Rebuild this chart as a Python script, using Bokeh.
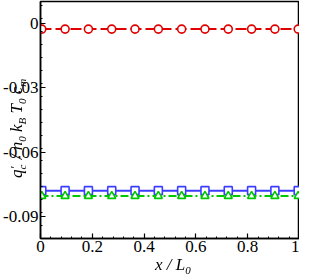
from bokeh.plotting import figure
from bokeh.models import FixedTicker, Range1d, Div
from bokeh.layouts import column
from bokeh.embed import file_html
from bokeh.resources import INLINE

# data
x_line = [0.0, 1.0]
x_mark = [0.005, 0.095, 0.185, 0.275, 0.365, 0.455, 0.545, 0.635, 0.725, 0.815, 0.905, 0.995]
red_val = -0.0028
blue_val = -0.0778
green_val = -0.0803
x_ticks = [0, 0.2, 0.4, 0.6, 0.8, 1.0]
x_tick_labels = {0: "0", 0.2: "0.2", 0.4: "0.4", 0.6: "0.6", 0.8: "0.8", 1.0: "1"}
y_ticks = [0, -0.03, -0.06, -0.09]
y_tick_labels = {0: "0", -0.03: "-0.03", -0.06: "-0.06", -0.09: "-0.09"}

RED = "#e00000"
BLUE = "#3c3cff"
GREEN = "#00c800"
FONT = "Liberation Serif"

p = figure(width=299, height=263, output_backend="svg", toolbar_location=None,
           x_range=Range1d(0, 1), y_range=Range1d(-0.1, 0.01),
           min_border_left=33, min_border_right=0, min_border_top=1, min_border_bottom=25)
p.grid.visible = False
p.outline_line_color = "black"
p.outline_line_width = 1.5
p.background_fill_color = "white"
p.border_fill_color = "white"

# red
p.line(x_line, [red_val] * 2, color=RED, line_width=2, line_dash="11 4")
p.scatter(x_mark, [red_val] * len(x_mark), marker="circle", size=8, line_color=RED,
          fill_color="white", line_width=1.6)
# blue
p.line(x_line, [blue_val] * 2, color=BLUE, line_width=2)
p.scatter(x_mark, [blue_val] * len(x_mark), marker="square", size=8, line_color=BLUE,
          fill_color="white", line_width=1.6)
# green
p.line(x_line, [green_val] * 2, color=GREEN, line_width=2, line_dash="8 3 2 3")
p.scatter(x_mark, [green_val] * len(x_mark), marker="triangle", size=8, line_color=GREEN,
          fill_color="white", line_width=1.6)

xminor = [round(i * 0.04, 2) for i in range(26)]
yminor = [round(-0.1 + i * 0.006, 3) for i in range(19)]
p.xaxis.ticker = FixedTicker(ticks=x_ticks, minor_ticks=xminor)
p.yaxis.ticker = FixedTicker(ticks=y_ticks, minor_ticks=yminor)
p.xaxis.major_label_overrides = x_tick_labels
p.yaxis.major_label_overrides = y_tick_labels

for ax in (p.xaxis, p.yaxis):
    ax.axis_line_color = "black"
    ax.axis_line_width = 1.5
    ax.major_tick_in = 5
    ax.major_tick_out = 0
    ax.minor_tick_in = 2
    ax.minor_tick_out = 0
    ax.major_tick_line_width = 1.2
    ax.major_label_text_font = FONT
    ax.major_label_text_font_size = "17px"
    ax.major_label_text_color = "black"
    ax.major_label_standoff = 2

# axis titles as real HTML text with sub/superscripts
base = ("position:fixed; font-family:'Liberation Serif','Times New Roman',serif; "
        "font-style:italic; font-size:17px; line-height:17px; white-space:nowrap; color:black;")
sub = "font-size:11px; line-height:0; vertical-align:-4px;"
xlab = (f'<div style="{base} left:155px; top:256px;">'
        f'x / L<span style="{sub}">0</span></div>')
ylab = (f'<div style="{base} left:8px; top:178px; transform-origin:left top; '
        f'transform:rotate(-90deg);">'
        f'q<span style="position:relative; display:inline-block; width:6px; height:0;">'
        f'<span style="position:absolute; left:1px; top:-14px; font-size:13px; '
        f'line-height:13px; font-style:normal;">′</span>'
        f'<span style="position:absolute; left:0px; top:-5px; font-size:11px; '
        f'line-height:11px;">c</span></span>'
        f' / n<span style="{sub}">0</span> k<span style="{sub}">B</span> '
        f'T<span style="{sub}">0</span> c<span style="{sub}">m</span></div>')
labels = Div(text=xlab + ylab, width=1, height=1)

layout = column(p, labels)
open("out.html", "w").write(file_html(layout, INLINE))
